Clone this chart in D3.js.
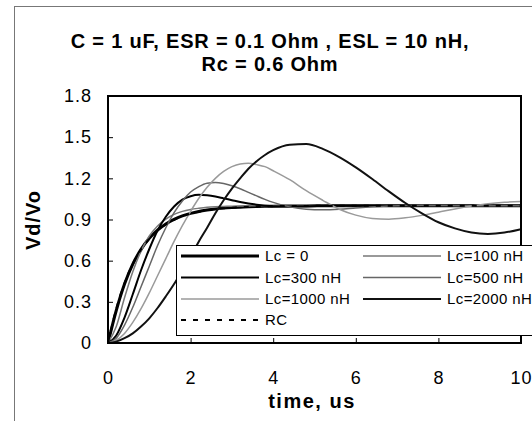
<!DOCTYPE html>
<html>
<head>
<meta charset="utf-8">
<script src="https://cdn.jsdelivr.net/npm/d3@7"></script>
<style>
  body { margin: 0; background: #fff; }
  svg { display: block; font-family: Arial, "Liberation Sans", sans-serif; }
</style>
</head>
<body>
<div id="chart"></div>
<script>
// time axis, us
const timeUs = [0, 0.2, 0.4, 0.6, 0.8, 1.0, 1.2, 1.4, 1.6, 1.8, 2.0,
  2.2, 2.4, 2.6, 2.8, 3.0, 3.2, 3.4, 3.6, 3.8, 4.0,
  4.4, 4.8, 5.2, 5.6, 6.0, 6.4, 6.8, 7.2, 7.6, 8.0, 8.4, 8.8, 9.2, 9.6, 10];

// Vd/Vo
const lc0 = [0, 0.237, 0.43, 0.575, 0.682, 0.763, 0.823, 0.868, 0.901, 0.926, 0.945,
  0.959, 0.969, 0.977, 0.983, 0.987, 0.99, 0.993, 0.995, 0.996, 0.997,
  0.998, 0.999, 1, 1, 1, 1, 1, 1, 1, 1, 1, 1, 1, 1, 1];
const lc100 = [0, 0.12, 0.33, 0.52, 0.67, 0.78, 0.853, 0.903, 0.937, 0.959, 0.973,
  0.982, 0.989, 0.993, 0.995, 0.997, 0.998, 0.999, 1, 1, 1,
  1, 1, 1, 1, 1, 1, 1, 1, 1, 1, 1, 1, 1, 1, 1];
const lc300 = [0, 0.055, 0.185, 0.355, 0.53, 0.685, 0.82, 0.92, 0.995, 1.045, 1.07,
  1.08, 1.076, 1.067, 1.054, 1.041, 1.028, 1.017, 1.008, 1.001, 0.997,
  0.995, 0.997, 0.999, 1, 1, 1, 1, 1, 1, 1, 1, 1, 1, 1, 1];
const lc500 = [0, 0.035, 0.13, 0.26, 0.41, 0.56, 0.71, 0.84, 0.95, 1.035, 1.10,
  1.14, 1.165, 1.17, 1.162, 1.146, 1.124, 1.098, 1.072, 1.047, 1.025,
  0.992, 0.975, 0.971, 0.975, 0.984, 0.992, 0.998, 1.002, 1.003, 1.002, 1.001, 1, 1, 1, 1];
const lc1000 = [0, 0.02, 0.07, 0.15, 0.25, 0.365, 0.49, 0.615, 0.74, 0.855, 0.96,
  1.055, 1.135, 1.20, 1.25, 1.285, 1.305, 1.31, 1.30, 1.285, 1.255,
  1.19, 1.11, 1.04, 0.975, 0.932, 0.908, 0.902, 0.912, 0.93, 0.953, 0.977, 0.998, 1.015, 1.026, 1.032];
const lc2000 = [0, 0.01, 0.035, 0.07, 0.12, 0.18, 0.255, 0.34, 0.43, 0.53, 0.63,
  0.74, 0.84, 0.945, 1.04, 1.125, 1.20, 1.27, 1.325, 1.37, 1.405,
  1.445, 1.45, 1.415, 1.355, 1.28, 1.195, 1.105, 1.02, 0.945, 0.88, 0.835, 0.805, 0.795, 0.805, 0.83];
const rc = [0, 0.249, 0.435, 0.576, 0.681, 0.76, 0.82, 0.865, 0.898, 0.924, 0.943,
  0.957, 0.968, 0.976, 0.982, 0.986, 0.99, 0.992, 0.994, 0.996, 0.997,
  0.998, 0.999, 1, 1, 1, 1, 1, 1, 1, 1, 1, 1, 1, 1, 1];

const seriesNames = ["Lc = 0", "Lc=100 nH", "Lc=300 nH", "Lc=500 nH", "Lc=1000 nH", "Lc=2000 nH", "RC"];
const seriesValues = [lc0, lc100, lc300, lc500, lc1000, lc2000, rc];

const xTicks = [0, 2, 4, 6, 8, 10];
const yTicks = [0, 0.3, 0.6, 0.9, 1.2, 1.5, 1.8];

const titleLines = ["C = 1 uF, ESR = 0.1 Ohm , ESL = 10 nH,", "Rc = 0.6 Ohm"];

// line looks per series
const looks = {
  "Lc = 0":     { color: "#000", width: 3 },
  "Lc=100 nH":  { color: "#777", width: 1.5 },
  "Lc=300 nH":  { color: "#000", width: 2 },
  "Lc=500 nH":  { color: "#666", width: 1.5 },
  "Lc=1000 nH": { color: "#9a9a9a", width: 1.5 },
  "Lc=2000 nH": { color: "#111", width: 2 },
  "RC":         { color: "#000", width: 2, dash: "5,7" }
};

const W = 532, H = 421;
const plot = { left: 108, right: 521, top: 96, bottom: 343 };

const svg = d3.select("#chart").append("svg")
  .attr("width", W)
  .attr("height", H);

svg.append("rect")
  .attr("width", W).attr("height", H)
  .attr("fill", "#fff");

// outer chart frame (runs off right/bottom)
svg.append("rect")
  .attr("x", 14.5).attr("y", 6.5)
  .attr("width", W + 20).attr("height", H + 20)
  .attr("fill", "none")
  .attr("stroke", "#777")
  .attr("stroke-width", 1);

const x = d3.scaleLinear().domain([0, 10]).range([plot.left, plot.right]);
const y = d3.scaleLinear().domain([0, 1.8]).range([plot.bottom, plot.top]);

// title
svg.append("g").selectAll("text")
  .data(titleLines)
  .enter().append("text")
  .attr("x", 270)
  .attr("y", (d, i) => 48 + i * 23)
  .attr("text-anchor", "middle")
  .style("font-size", "20px")
  .style("font-weight", "bold")
  .style("letter-spacing", "0.8px")
  .text(d => d);

svg.append("defs").append("clipPath")
  .attr("id", "plotClip")
  .append("rect")
  .attr("x", plot.left).attr("y", plot.top)
  .attr("width", plot.right - plot.left)
  .attr("height", plot.bottom - plot.top);

// axes with inside ticks
const xAxis = svg.append("g")
  .attr("transform", `translate(0,${plot.bottom})`)
  .call(d3.axisBottom(x).tickValues(xTicks).tickSize(-5).tickPadding(28).tickFormat(d3.format("d")));
const yAxis = svg.append("g")
  .attr("transform", `translate(${plot.left},0)`)
  .call(d3.axisLeft(y).tickValues(yTicks).tickSize(-5).tickPadding(16).tickFormat(d => d === 0 ? "0" : d3.format(".1f")(d)));

[xAxis, yAxis].forEach(a => {
  a.select(".domain").remove();
  a.selectAll(".tick line").attr("stroke", "#000").attr("stroke-width", 1);
  a.selectAll(".tick text")
    .attr("fill", "#000")
    .style("font-size", "18px")
    .style("letter-spacing", "1px")
    .style("font-family", "Arial, 'Liberation Sans', sans-serif");
});

const line = d3.line()
  .x((d, i) => x(timeUs[i]))
  .y(d => y(d))
  .curve(d3.curveMonotoneX);

const curves = svg.append("g").attr("clip-path", "url(#plotClip)");
seriesNames.forEach((name, k) => {
  const lk = looks[name];
  curves.append("path")
    .datum(seriesValues[k])
    .attr("d", line)
    .attr("fill", "none")
    .attr("stroke", lk.color)
    .attr("stroke-width", lk.width)
    .attr("stroke-dasharray", lk.dash || null)
    .attr("stroke-linejoin", "round");
});

// plot frame
svg.append("rect")
  .attr("x", plot.left).attr("y", plot.top)
  .attr("width", plot.right - plot.left)
  .attr("height", plot.bottom - plot.top)
  .attr("fill", "none")
  .attr("stroke", "#000")
  .attr("stroke-width", 2);

// axis titles
svg.append("text")
  .attr("transform", `translate(40,220) rotate(-90)`)
  .attr("text-anchor", "middle")
  .style("font-size", "20px")
  .style("font-weight", "bold")
  .style("letter-spacing", "1px")
  .text("Vd/Vo");

svg.append("text")
  .attr("x", 312)
  .attr("y", 408)
  .attr("text-anchor", "middle")
  .style("font-size", "20px")
  .style("font-weight", "bold")
  .style("letter-spacing", "1.5px")
  .text("time, us");

// legend
const legend = svg.append("g");
legend.append("rect")
  .attr("x", 176.5).attr("y", 245.5)
  .attr("width", 400).attr("height", 90)
  .attr("fill", "#fff")
  .attr("stroke", "#000")
  .attr("stroke-width", 1);

const colX = [181, 363];
const rowY = [256, 277.5, 299, 320];
seriesNames.forEach((name, k) => {
  const lk = looks[name];
  const cx = colX[k % 2];
  const cy = rowY[Math.floor(k / 2)];
  legend.append("line")
    .attr("x1", cx).attr("x2", cx + 78)
    .attr("y1", cy).attr("y2", cy)
    .attr("stroke", lk.color)
    .attr("stroke-width", lk.width)
    .attr("stroke-dasharray", lk.dash || null);
  legend.append("text")
    .attr("x", cx + 84)
    .attr("y", cy)
    .attr("dy", "0.35em")
    .style("font-size", "15px")
    .style("letter-spacing", "0.4px")
    .text(name);
});
</script>
</body>
</html>
